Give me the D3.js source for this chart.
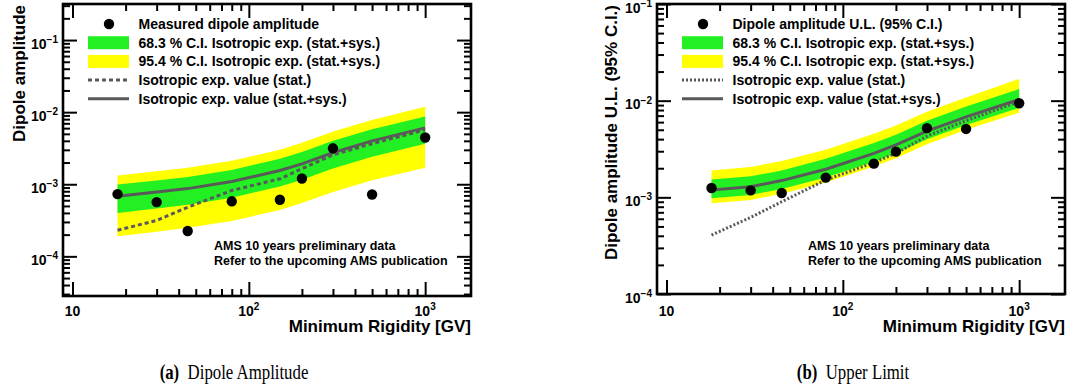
<!DOCTYPE html>
<html>
<head>
<meta charset="utf-8">
<script src="https://cdn.jsdelivr.net/npm/d3@7"></script>
<style>
  body { margin: 0; background: #fff; }
  svg text { font-family: "Liberation Sans", Arial, Helvetica, sans-serif; font-weight: bold; fill: #000; }
  svg text.caption { font-family: "Liberation Serif", "Times New Roman", serif; font-weight: normal; }
</style>
</head>
<body>
<script>
// minimum rigidity bins (GV)
const rigidity = [18, 30, 45, 80, 150, 200, 300, 500, 1000];

// (a) dipole amplitude
const ampMeasured = [7.3e-4, 5.65e-4, 2.25e-4, 5.8e-4, 6.1e-4, 1.2e-3, 3.15e-3, 7.2e-4, 4.45e-3];
const ampIsoSys   = [6.8e-4, 7.8e-4, 8.7e-4, 1.09e-3, 1.55e-3, 1.92e-3, 2.75e-3, 4.0e-3, 6.05e-3];
const ampIsoStat  = [2.3e-4, 3.15e-4, 4.8e-4, 8.2e-4, 1.19e-3, 1.64e-3, 2.56e-3, 3.64e-3, 5.7e-3];
const amp68Hi     = [9.9e-4, 1.13e-3, 1.26e-3, 1.58e-3, 2.25e-3, 2.8e-3, 4.0e-3, 5.8e-3, 8.7e-3];
const amp68Lo     = [4.0e-4, 4.6e-4, 5.2e-4, 6.5e-4, 9.3e-4, 1.15e-3, 1.65e-3, 2.4e-3, 3.65e-3];
const amp95Hi     = [1.32e-3, 1.52e-3, 1.7e-3, 2.12e-3, 3.0e-3, 3.75e-3, 5.4e-3, 7.8e-3, 1.19e-2];
const amp95Lo     = [1.9e-4, 2.2e-4, 2.5e-4, 3.1e-4, 4.4e-4, 5.5e-4, 7.8e-4, 1.14e-3, 1.7e-3];

// (b) upper limit
const ulMeasured = [1.25e-3, 1.18e-3, 1.11e-3, 1.6e-3, 2.23e-3, 2.97e-3, 5.2e-3, 5.1e-3, 9.4e-3];
const ulIsoSys   = [1.19e-3, 1.29e-3, 1.49e-3, 1.95e-3, 2.85e-3, 3.48e-3, 4.85e-3, 6.8e-3, 1.03e-2];
const ulIsoStat  = [4.07e-4, 6.2e-4, 9.0e-4, 1.51e-3, 2.29e-3, 2.85e-3, 4.3e-3, 6.2e-3, 9.8e-3];
const ul68Hi     = [1.53e-3, 1.65e-3, 1.9e-3, 2.5e-3, 3.65e-3, 4.45e-3, 6.2e-3, 8.7e-3, 1.32e-2];
const ul68Lo     = [9.8e-4, 1.06e-3, 1.22e-3, 1.6e-3, 2.34e-3, 2.85e-3, 4.0e-3, 5.6e-3, 8.4e-3];
const ul95Hi     = [1.9e-3, 2.06e-3, 2.38e-3, 3.1e-3, 4.55e-3, 5.55e-3, 7.7e-3, 1.08e-2, 1.68e-2];
const ul95Lo     = [8.7e-4, 9.4e-4, 1.09e-3, 1.42e-3, 2.08e-3, 2.54e-3, 3.55e-3, 5.0e-3, 7.5e-3];

// tick labels
const xTickLabels = [[10, "10", ""], [100, "10", "2"], [1000, "10", "3"]];
const yTickLabels = [[1e-1, "10", "\u22121"], [1e-2, "10", "\u22122"], [1e-3, "10", "\u22123"], [1e-4, "10", "\u22124"]];

const legendCommon = ["68.3 % C.I. Isotropic exp. (stat.+sys.)", "95.4 % C.I. Isotropic exp. (stat.+sys.)",
  "Isotropic exp. value (stat.)", "Isotropic exp. value (stat.+sys.)"];
const noteLines = ["AMS 10 years preliminary data", "Refer to the upcoming AMS publication"];

const width = 1067, height = 389;
const green = "#22f022", yellow = "#ffff00", grey = "#595959";

const svg = d3.select("body").append("svg")
    .attr("width", width)
    .attr("height", height);

const panels = [
  {
    left: 63, right: 471, top: 4, bottom: 296,
    yDomain: [Math.pow(10, -4.55), Math.pow(10, -0.5)],
    measured: ampMeasured, sys: ampIsoSys, stat: ampIsoStat,
    hi68: amp68Hi, lo68: amp68Lo, hi95: amp95Hi, lo95: amp95Lo,
    statDash: "4,3",
    yTitle: "Dipole amplitude", yTitleX: 24.5,
    legendTitle: "Measured dipole amplitude",
    caption: ["(a)", "Dipole Amplitude"], captionX: 234
  },
  {
    left: 657, right: 1065, top: 4, bottom: 294,
    yDomain: [1e-4, 1e-1],
    measured: ulMeasured, sys: ulIsoSys, stat: ulIsoStat,
    hi68: ul68Hi, lo68: ul68Lo, hi95: ul95Hi, lo95: ul95Lo,
    statDash: "2,2",
    yTitle: "Dipole amplitude U.L. (95% C.I.)", yTitleX: 617,
    legendTitle: "Dipole amplitude U.L. (95% C.I.)",
    caption: ["(b)", "Upper Limit"], captionX: 853
  }
];

function logTicks(lo, hi, major) {
  const out = [];
  for (let e = -6; e <= 4; e++) {
    for (let m = 1; m <= 9; m++) {
      const v = m * Math.pow(10, e);
      if (v < lo || v > hi) continue;
      if ((m === 1) === major) out.push(v);
    }
  }
  return out;
}

function drawPanel(p) {
  const x = d3.scaleLog().domain([Math.pow(10, 0.946), Math.pow(10, 3.26)]).range([p.left, p.right]);
  const y = d3.scaleLog().domain(p.yDomain).range([p.bottom, p.top]);
  const g = svg.append("g");

  const pts = rigidity.map((r, i) => ({ r: r, m: p.measured[i], sys: p.sys[i], stat: p.stat[i],
    hi68: p.hi68[i], lo68: p.lo68[i], hi95: p.hi95[i], lo95: p.lo95[i] }));

  const band = (hk, lk) => d3.area().x(d => x(d.r)).y0(d => y(d[lk])).y1(d => y(d[hk]));
  g.append("path").attr("d", band("hi95", "lo95")(pts)).attr("fill", yellow);
  g.append("path").attr("d", band("hi68", "lo68")(pts)).attr("fill", green);

  const line = k => d3.line().x(d => x(d.r)).y(d => y(d[k]));
  g.append("path").attr("d", line("stat")(pts)).attr("fill", "none")
      .attr("stroke", grey).attr("stroke-width", 3).attr("stroke-dasharray", p.statDash);
  g.append("path").attr("d", line("sys")(pts)).attr("fill", "none")
      .attr("stroke", grey).attr("stroke-width", 3);

  g.selectAll("circle.pt").data(pts).enter().append("circle")
      .attr("class", "pt")
      .attr("cx", d => x(d.r))
      .attr("cy", d => y(d.m))
      .attr("r", 5.2)
      .attr("fill", "#000");

  // ticks on all four sides, pointing inward
  const xMin = logTicks(x.domain()[0] * 1.05, x.domain()[1], false);
  const xMaj = logTicks(x.domain()[0], x.domain()[1], true);
  const yMin = logTicks(y.domain()[0], y.domain()[1], false);
  const yMaj = logTicks(y.domain()[0], y.domain()[1], true);

  const axes = [
    [d3.axisBottom(x), `translate(0,${p.bottom})`, xMaj, xMin],
    [d3.axisTop(x), `translate(0,${p.top})`, xMaj, xMin],
    [d3.axisLeft(y), `translate(${p.left},0)`, yMaj, yMin],
    [d3.axisRight(y), `translate(${p.right},0)`, yMaj, yMin]
  ];
  axes.forEach(([ax, tr, maj, min]) => {
    [[maj, 14], [min, 7]].forEach(([vals, len]) => {
      const a = g.append("g").attr("transform", tr)
          .call(ax.tickValues(vals).tickSize(-len).tickFormat(""));
      a.select(".domain").remove();
      a.selectAll("line").attr("stroke", "#000").attr("stroke-width", 2);
    });
  });

  g.append("rect")
      .attr("x", p.left).attr("y", p.top)
      .attr("width", p.right - p.left).attr("height", p.bottom - p.top)
      .attr("fill", "none").attr("stroke", "#000").attr("stroke-width", 2.6);

  // tick labels
  xTickLabels.forEach(([v, base, sup]) => {
    const t = g.append("text").attr("x", x(v)).attr("y", 315.5)
        .attr("text-anchor", "middle").style("font-size", "14px");
    t.append("tspan").text(base);
    if (sup) t.append("tspan").attr("dy", -6).style("font-size", "10px").text(sup);
  });
  yTickLabels.forEach(([v, base, sup]) => {
    const t = g.append("text").attr("x", p.left - 5).attr("y", y(v) + 8.5)
        .attr("text-anchor", "end").style("font-size", "14px");
    t.append("tspan").text(base);
    t.append("tspan").attr("dy", -5.5).style("font-size", "10px").text(sup);
  });

  // axis titles
  g.append("text").attr("x", p.right).attr("y", 332)
      .attr("text-anchor", "end").style("font-size", "17px")
      .text("Minimum Rigidity [GV]");
  g.append("text")
      .attr("transform", `translate(${p.yTitleX},${p.top + 1}) rotate(-90)`)
      .attr("text-anchor", "end").style("font-size", "17px")
      .text(p.yTitle);

  // legend
  const lx = p.left + 25, tx = p.left + 75.5;
  const rows = [p.legendTitle].concat(legendCommon);
  rows.forEach((label, i) => {
    const cy = 24 + i * 18.7;
    if (i === 0) {
      g.append("circle").attr("cx", lx + 21).attr("cy", cy).attr("r", 5.2).attr("fill", "#000");
    } else if (i < 3) {
      g.append("rect").attr("x", lx).attr("y", cy - 6.5).attr("width", 41).attr("height", 13)
          .attr("fill", i === 1 ? green : yellow);
    } else {
      g.append("line").attr("x1", lx).attr("x2", lx + 41).attr("y1", cy).attr("y2", cy)
          .attr("stroke", grey).attr("stroke-width", 3)
          .attr("stroke-dasharray", i === 3 ? p.statDash : null);
    }
    g.append("text").attr("x", tx).attr("y", cy + 5).style("font-size", "14px").text(label);
  });

  noteLines.forEach((s, i) => {
    g.append("text").attr("x", p.left + 151).attr("y", 250 + i * 15)
        .style("font-size", "12.5px").text(s);
  });

  // sub-figure caption (narrow serif, as in the paper)
  const cap = g.append("text").attr("class", "caption")
      .attr("transform", `translate(${p.captionX},379) scale(0.8,1)`)
      .attr("text-anchor", "middle").style("font-size", "21px");
  cap.append("tspan").style("font-weight", "bold").text(p.caption[0]);
  cap.append("tspan").text("\u00a0\u00a0" + p.caption[1]);
}

panels.forEach(drawPanel);
</script>
</body>
</html>
